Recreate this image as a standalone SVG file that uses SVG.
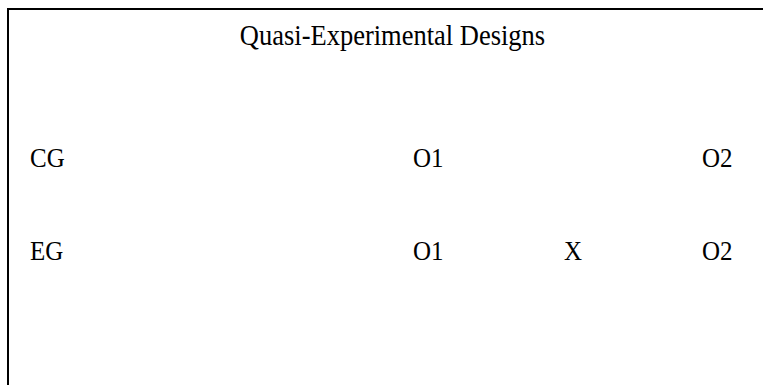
<svg xmlns="http://www.w3.org/2000/svg" width="763" height="385" viewBox="0 0 763 385">
<style>
text{font-family:"Liberation Serif","Times New Roman",serif;font-size:25px;fill:#000}
.t{font-size:26.5px}
.b{stroke:#000;stroke-width:2;fill:none}
</style>
<rect width="763" height="385" fill="#fff"/>
<g id="frame"><path class="b" d="M8,385 V9 H763"/></g>
<g id="title" transform="translate(392.5,45) scale(1,1.12)"><text class="t" text-anchor="middle">Quasi-Experimental Designs</text></g>
<g id="cg" transform="translate(30,167) scale(1,1.12)"><text>CG</text></g>
<g id="cg-o1" transform="translate(413,167) scale(1,1.12)"><text>O1</text></g>
<g id="cg-o2" transform="translate(702,167) scale(1,1.12)"><text>O2</text></g>
<g id="eg" transform="translate(30,260) scale(1,1.12)"><text>EG</text></g>
<g id="eg-o1" transform="translate(413,260) scale(1,1.12)"><text>O1</text></g>
<g id="eg-x" transform="translate(564,260) scale(1,1.12)"><text>X</text></g>
<g id="eg-o2" transform="translate(702,260) scale(1,1.12)"><text>O2</text></g>
<g id="connectors"></g>
</svg>
